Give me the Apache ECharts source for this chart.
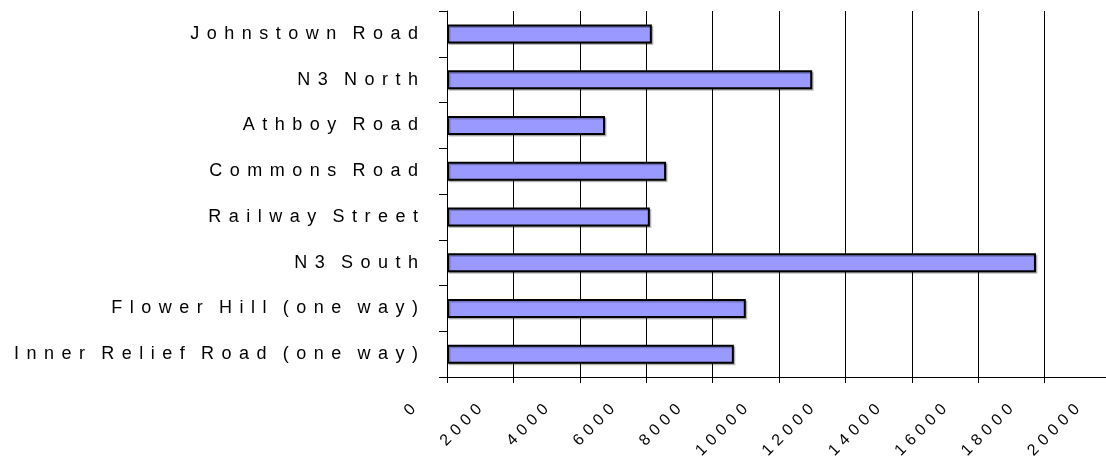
<!DOCTYPE html>
<html>
<head>
<meta charset="utf-8">
<script src="https://cdn.jsdelivr.net/npm/echarts@6/dist/echarts.min.js"></script>
<style>
    html, body { margin: 0; padding: 0; background: #fff; }
    #main { width: 1106px; height: 457px; }
</style>
</head>
<body>
<div id="main"></div>
<script>
var roads = ['Johnstown Road', 'N3 North', 'Athboy Road', 'Commons Road', 'Railway Street', 'N3 South', 'Flower Hill (one way)', 'Inner Relief Road (one way)'];
var traffic = [6170, 11000, 4760, 6600, 6110, 17740, 9000, 8640];
var xTicks = [0, 2000, 4000, 6000, 8000, 10000, 12000, 14000, 16000, 18000, 20000];

// spaced-out text like the original (no letterSpacing in echarts)
var spread = function (s, gap, wordGap) {
    return s.split(' ').map(function (w) { return w.split('').join(gap) }).join(wordGap)
}

var chart = echarts.init(document.getElementById('main'));
var option = {
    animation: false,
    grid: { left: 447, top: 11, width: 664, height: 366, outerBoundsMode: 'none', containLabel: false },
    xAxis: {
        type: 'value',
        min: xTicks[0],
        max: xTicks[xTicks.length - 1],
        interval: 2000,
        axisLine: { show: true, lineStyle: { color: '#000', width: 1 } },
        axisTick: { show: true, length: 6, lineStyle: { color: '#000' } },
        splitLine: { show: true, lineStyle: { color: '#000', width: 1 } },
        axisLabel: {
            rotate: 45,
            margin: -4,
            padding: [0, 48, 20, 0],
            color: '#000',
            fontFamily: 'Liberation Sans',
            fontSize: 16,
            showMinLabel: true,
            showMaxLabel: true,
            hideOverlap: false,
            formatter: function (v) { return spread(String(v), '\u2004', '\u2004') }
        }
    },
    yAxis: {
        type: 'category',
        inverse: true,
        data: roads,
        axisLine: { show: true, lineStyle: { color: '#000', width: 1 } },
        axisTick: { show: true, length: 8, lineStyle: { color: '#000' } },
        splitLine: { show: false },
        axisLabel: {
            margin: 29,
            color: '#000',
            fontFamily: 'Liberation Sans',
            fontSize: 18,
            formatter: function (v) { return spread(v, '\u2004\u200A', '\u2002\u2009\u2009') }
        }
    },
    series: [{
        type: 'bar',
        data: traffic,
        barWidth: 19,
        itemStyle: {
            color: '#9999ff',
            borderColor: '#000',
            borderWidth: 2,
            shadowColor: 'rgba(0,0,0,0.25)',
            shadowOffsetX: 1.5,
            shadowOffsetY: 1.5,
            shadowBlur: 0
        }
    }]
};
chart.setOption(option);
</script>
</body>
</html>
